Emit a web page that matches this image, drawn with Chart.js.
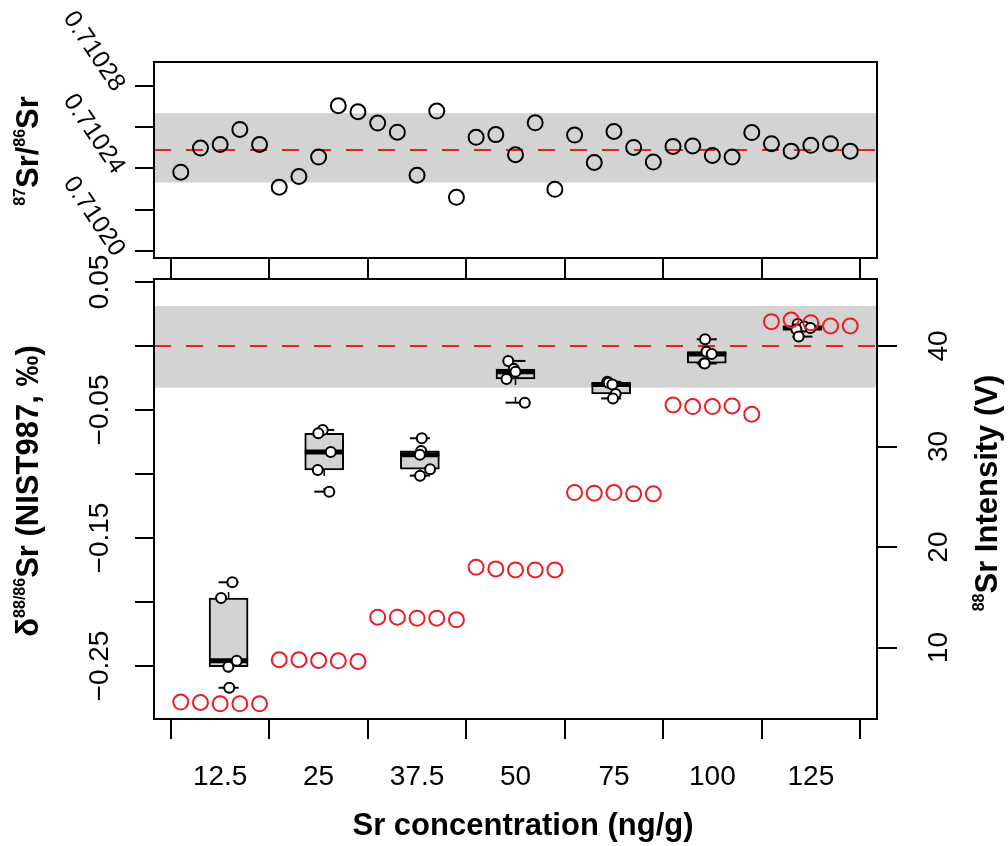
<!DOCTYPE html>
<html>
<head>
<meta charset="utf-8">
<script src="https://cdn.jsdelivr.net/npm/chart.js@4.4.1/dist/chart.umd.min.js"></script>
<style>
  html, body { margin: 0; padding: 0; background: #fff; }
  #wrap { position: relative; width: 1008px; height: 846px; }
  #wrap canvas { position: absolute; left: 0; top: 0; }
</style>
</head>
<body>
<div id="wrap">
  <canvas id="chartRatio" width="1008" height="846"></canvas>
  <canvas id="chartDelta" width="1008" height="846"></canvas>
</div>
<script>
// Sr concentration groups (ng/g), five runs each
const concentrations = ['12.5', '25', '37.5', '50', '75', '100', '125'];

// 87Sr/86Sr of the 35 runs, in run order
const ratio8786 = [
  0.7102382, 0.7102499, 0.7102516, 0.7102589, 0.7102516,
  0.7102309, 0.7102361, 0.7102455, 0.7102704, 0.7102675,
  0.7102620, 0.7102576, 0.7102367, 0.7102678, 0.7102260,
  0.7102551, 0.7102564, 0.7102467, 0.7102621, 0.7102299,
  0.7102562, 0.7102429, 0.7102579, 0.7102502, 0.7102431,
  0.7102507, 0.7102509, 0.7102463, 0.7102455, 0.7102574,
  0.7102520, 0.7102484, 0.7102512, 0.7102520, 0.7102484
];
const ratioMean = 0.710249;
const ratioBand = [0.7102332, 0.7102668];
const ratioTicks = [0.71020, 0.71022, 0.71024, 0.71026, 0.71028];
const ratioTickLabels = [0.71020, 0.71024, 0.71028];

// d88/86Sr per group (5 runs) and the horizontal spread of each dot
const delta88 = [
  [-0.1846, -0.1969, -0.2459, -0.2505, -0.2670],
  [-0.0656, -0.0682, -0.0828, -0.0969, -0.1138],
  [-0.0721, -0.0820, -0.0850, -0.0963, -0.1013],
  [-0.0117, -0.0180, -0.0201, -0.0258, -0.0443],
  [-0.0280, -0.0287, -0.0302, -0.0375, -0.0410],
  [0.0052, -0.0045, -0.0063, -0.0135, -0.0137],
  [0.0172, 0.0151, 0.0141, 0.0130, 0.0073]
];
const deltaJitter = [
  [0.039, -0.079, 0.085, -0.003, 0.007],
  [-0.016, -0.062, 0.068, -0.068, 0.053],
  [0.020, 0.013, 0.000, 0.107, 0.002],
  [-0.076, -0.018, 0.000, -0.094, 0.097],
  [-0.040, -0.026, 0.013, 0.047, 0.019],
  [-0.018, -0.003, 0.052, -0.028, -0.021],
  [-0.049, 0.020, 0.084, -0.063, -0.039]
];
const deltaRef = 0;
const deltaBand = [-0.0326, 0.0313];
const deltaTicks = [-0.25, -0.20, -0.15, -0.10, -0.05, 0, 0.05];
const deltaTickLabels = [-0.25, -0.15, -0.05, 0.05];

// 88Sr beam intensity (V) of the 35 runs
const intensity88 = [
  4.58, 4.54, 4.41, 4.41, 4.41,
  8.79, 8.79, 8.72, 8.69, 8.62,
  13.03, 13.03, 12.93, 12.93, 12.76,
  18.00, 17.83, 17.73, 17.73, 17.73,
  25.42, 25.36, 25.42, 25.29, 25.29,
  34.14, 33.97, 33.97, 34.04, 33.21,
  42.42, 42.58, 42.32, 41.99, 41.99
];
const intensityTicks = [10, 20, 30, 40];

// run index axis: group separators and group centres
const runBreaks = [0.5, 5.5, 10.5, 15.5, 20.5, 25.5, 30.5, 35.5];
const groupCentres = [3, 8, 13, 18, 23, 28, 33];

const RED = '#ed1c24';
const GREY = '#d3d3d3';
const FONT = '"Liberation Sans", Arial, Helvetica, sans-serif';

function fivenum(v) {
  const s = [...v].sort((a, b) => a - b);
  const n = s.length;
  const n4 = Math.floor((n + 3) / 2) / 2;
  const d = [1, n4, (n + 1) / 2, n + 1 - n4, n];
  return d.map((p) => 0.5 * (s[Math.floor(p) - 1] + s[Math.ceil(p) - 1]));
}

function fixedTicks(vals) {
  return (scale) => { scale.ticks = vals.map((v) => ({ value: v })); };
}

function tickGrid(len) {
  return { drawOnChartArea: false, drawTicks: true, tickLength: len, tickColor: '#000', tickWidth: 2, color: '#000', lineWidth: 2 };
}

function fmtDelta(v) {
  const s = Math.abs(v).toFixed(2);
  return v < 0 ? '\u2212' + s : s;
}

function drawText(ctx, text, x, y, angle, align, baseline, font) {
  ctx.save();
  ctx.translate(x, y);
  ctx.rotate(angle);
  ctx.font = font;
  ctx.fillStyle = '#000';
  ctx.textAlign = align;
  ctx.textBaseline = baseline;
  ctx.fillText(text, 0, 0);
  ctx.restore();
}

// title made of normal and superscript pieces, centred on (cx, cy)
function drawTitle(ctx, parts, cx, cy, angle, size) {
  const supSize = Math.round(size * 0.5);
  const fontOf = (p) => `bold ${p.sup ? supSize : size}px ${FONT}`;
  ctx.save();
  ctx.translate(cx, cy);
  ctx.rotate(angle);
  ctx.fillStyle = '#000';
  ctx.textAlign = 'left';
  ctx.textBaseline = 'alphabetic';
  const widths = parts.map((p) => { ctx.font = fontOf(p); return ctx.measureText(p.t).width; });
  let x = -widths.reduce((a, b) => a + b, 0) / 2;
  parts.forEach((p, i) => {
    ctx.font = fontOf(p);
    ctx.fillText(p.t, x, p.sup ? -size * 0.42 : 0);
    x += widths[i];
  });
  ctx.restore();
}

function bandPlugin(id, band, axis) {
  return {
    id: id,
    beforeDatasetsDraw(chart) {
      const { ctx, chartArea } = chart;
      const s = chart.scales[axis];
      const y1 = s.getPixelForValue(band[1]);
      const y0 = s.getPixelForValue(band[0]);
      ctx.save();
      ctx.fillStyle = GREY;
      ctx.fillRect(chartArea.left, y1, chartArea.right - chartArea.left, y0 - y1);
      ctx.restore();
    }
  };
}

const framePlugin = {
  id: 'frame',
  afterDraw(chart) {
    const { ctx, chartArea: a } = chart;
    ctx.save();
    ctx.strokeStyle = '#000';
    ctx.lineWidth = 2;
    ctx.strokeRect(a.left, a.top, a.right - a.left, a.bottom - a.top);
    ctx.restore();
  }
};

const tickFont = `28px ${FONT}`;

// ---------- upper panel: 87Sr/86Sr ----------
const ratioLabels = {
  id: 'ratioLabels',
  afterDraw(chart) {
    const ctx = chart.ctx;
    const y = chart.scales.y;
    ratioTickLabels.forEach((v) => {
      drawText(ctx, v.toFixed(5), 119, y.getPixelForValue(v) + 3, 56 * Math.PI / 180, 'right', 'middle', `25px ${FONT}`);
    });
    drawTitle(ctx, [
      { t: '87', sup: true }, { t: 'Sr' }, { t: '/' }, { t: '86', sup: true }, { t: 'Sr' }
    ], 38, 151, -Math.PI / 2, 31);
  }
};

new Chart(document.getElementById('chartRatio'), {
  type: 'scatter',
  data: {
    datasets: [
      {
        type: 'scatter',
        data: ratio8786.map((v, i) => ({ x: i + 1, y: v })),
        pointStyle: 'circle',
        pointRadius: 7.5,
        pointBorderWidth: 2,
        pointBorderColor: '#000',
        pointBackgroundColor: 'rgba(0,0,0,0)',
        order: 1
      },
      {
        type: 'line',
        data: [{ x: -0.36, y: ratioMean }, { x: 36.36, y: ratioMean }],
        borderColor: RED,
        borderWidth: 2,
        borderDash: [17, 15],
        pointRadius: 0,
        order: 2
      }
    ]
  },
  options: {
    responsive: false,
    animation: false,
    events: [],
    layout: { padding: { left: 135, right: 131, top: 62, bottom: 567 } },
    plugins: { legend: { display: false }, tooltip: { enabled: false } },
    scales: {
      x: {
        type: 'linear', min: -0.36, max: 36.36,
        afterBuildTicks: fixedTicks(runBreaks),
        afterFit: (s) => { s.height = 21; },
        ticks: { display: false },
        grid: tickGrid(21),
        border: { display: false }
      },
      y: {
        type: 'linear', min: 0.7101966, max: 0.7102916,
        afterBuildTicks: fixedTicks(ratioTicks),
        afterFit: (s) => { s.width = 19; },
        ticks: { display: false },
        grid: tickGrid(19),
        border: { display: false }
      }
    }
  },
  plugins: [bandPlugin('ratioBand', ratioBand, 'y'), framePlugin, ratioLabels]
});

// ---------- lower panel: d88/86Sr boxes and 88Sr intensity ----------
const stats = delta88.map(fivenum);

const whiskerPts = [];
stats.forEach((f, i) => {
  whiskerPts.push({ x: i + 1, y: f[3] }, { x: i + 1, y: f[4] }, { x: i + 1, y: null });
  whiskerPts.push({ x: i + 1, y: f[1] }, { x: i + 1, y: f[0] }, { x: i + 1, y: null });
});

const dots = [];
delta88.forEach((g, i) => g.forEach((v, j) => dots.push({ x: i + 1 + deltaJitter[i][j], y: v })));

const deltaLabels = {
  id: 'deltaLabels',
  afterDraw(chart) {
    const ctx = chart.ctx;
    const { x, y, y1 } = chart.scales;
    deltaTickLabels.forEach((v) => {
      drawText(ctx, fmtDelta(v), 108, y.getPixelForValue(v), -Math.PI / 2, 'center', 'alphabetic', tickFont);
    });
    intensityTicks.forEach((v) => {
      drawText(ctx, String(v), 947, y1.getPixelForValue(v), -Math.PI / 2, 'center', 'alphabetic', tickFont);
    });
    groupCentres.forEach((c, i) => {
      drawText(ctx, concentrations[i], x.getPixelForValue(c), 785, 0, 'center', 'alphabetic', tickFont);
    });
    drawTitle(ctx, [
      { t: '\u03b4' }, { t: '88/86', sup: true }, { t: 'Sr (NIST987, \u2030)' }
    ], 38, 491, -Math.PI / 2, 31);
    drawTitle(ctx, [{ t: '88', sup: true }, { t: 'Sr Intensity (V)' }], 997, 493, -Math.PI / 2, 31);
    drawTitle(ctx, [{ t: 'Sr concentration (ng/g)' }], 523, 835, 0, 31);
  }
};

new Chart(document.getElementById('chartDelta'), {
  type: 'scatter',
  data: {
    datasets: [
      {
        type: 'scatter',
        xAxisID: 'x', yAxisID: 'y1',
        data: intensity88.map((v, i) => ({ x: i + 1, y: v })),
        pointStyle: 'circle',
        pointRadius: 7.5,
        pointBorderWidth: 2,
        pointBorderColor: RED,
        pointBackgroundColor: 'rgba(0,0,0,0)',
        order: 1
      },
      {
        type: 'scatter',
        xAxisID: 'xBox', yAxisID: 'y',
        data: dots,
        pointStyle: 'circle',
        pointRadius: 5,
        pointBorderWidth: 2,
        pointBorderColor: '#000',
        pointBackgroundColor: '#fff',
        order: 3
      },
      {
        type: 'scatter',
        xAxisID: 'xBox', yAxisID: 'y',
        data: stats.flatMap((f, i) => [{ x: i + 1, y: f[0] }, { x: i + 1, y: f[4] }]),
        pointStyle: 'line',
        pointRadius: 10,
        pointBorderWidth: 2,
        pointBorderColor: '#000',
        order: 4
      },
      {
        type: 'scatter',
        xAxisID: 'xBox', yAxisID: 'y',
        data: stats.map((f, i) => ({ x: i + 1, y: f[2] })),
        pointStyle: 'line',
        pointRadius: 19.5,
        pointBorderWidth: 5,
        pointBorderColor: '#000',
        order: 5
      },
      {
        type: 'line',
        xAxisID: 'xBox', yAxisID: 'y',
        data: whiskerPts,
        borderColor: '#000',
        borderWidth: 1.5,
        borderDash: [6, 12],
        pointRadius: 0,
        spanGaps: false,
        order: 6
      },
      {
        type: 'bar',
        xAxisID: 'xBox', yAxisID: 'y',
        data: stats.map((f, i) => ({ x: i + 1, y: [f[1], f[3]] })),
        barThickness: 39,
        grouped: false,
        backgroundColor: GREY,
        borderColor: '#000',
        borderWidth: 2,
        borderSkipped: false,
        order: 7
      },
      {
        type: 'line',
        xAxisID: 'x', yAxisID: 'y',
        data: [{ x: -0.36, y: deltaRef }, { x: 36.36, y: deltaRef }],
        borderColor: RED,
        borderWidth: 2,
        borderDash: [17, 15],
        pointRadius: 0,
        order: 8
      }
    ]
  },
  options: {
    responsive: false,
    animation: false,
    events: [],
    layout: { padding: { left: 135, right: 111, top: 279, bottom: 107 } },
    plugins: { legend: { display: false }, tooltip: { enabled: false } },
    scales: {
      x: {
        type: 'linear', position: 'bottom', min: -0.36, max: 36.36,
        afterBuildTicks: fixedTicks(runBreaks),
        afterFit: (s) => { s.height = 20; },
        ticks: { display: false },
        grid: tickGrid(20),
        border: { display: false }
      },
      xBox: {
        type: 'linear', position: 'bottom', min: 0.22, max: 7.78,
        offset: false,
        grid: { offset: false },
        display: false
      },
      y: {
        type: 'linear', position: 'left', min: -0.2914, max: 0.0523,
        afterBuildTicks: fixedTicks(deltaTicks),
        afterFit: (s) => { s.width = 19; },
        ticks: { display: false },
        grid: tickGrid(19),
        border: { display: false }
      },
      y1: {
        type: 'linear', position: 'right', min: 2.9, max: 46.66,
        afterBuildTicks: fixedTicks(intensityTicks),
        afterFit: (s) => { s.width = 20; },
        ticks: { display: false },
        grid: tickGrid(20),
        border: { display: false }
      }
    }
  },
  plugins: [bandPlugin('deltaBand', deltaBand, 'y'), framePlugin, deltaLabels]
});
</script>
</body>
</html>
